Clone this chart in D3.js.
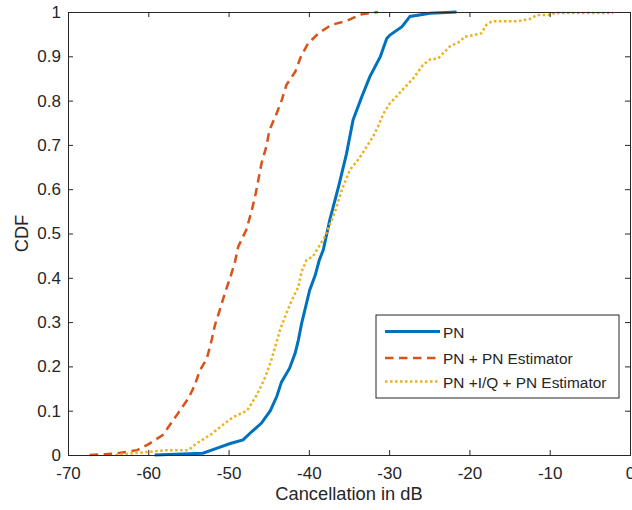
<!DOCTYPE html>
<html><head><meta charset="utf-8">
<script src="https://cdn.jsdelivr.net/npm/d3@7"></script>
<style>body{margin:0;background:#fff;} text{font-family:"Liberation Sans",Arial,sans-serif;fill:#262626;}</style>
</head><body>
<svg id="c" width="632" height="510"></svg>
<script>
const xTicks = [-70,-60,-50,-40,-30,-20,-10,0];
const yTicks = [0,0.1,0.2,0.3,0.4,0.5,0.6,0.7,0.8,0.9,1];
const seriesNames = ["PN","PN + PN Estimator","PN +I/Q + PN Estimator"];

const pnX = [-59.2,-53.2,-51.5,-49.8,-48.2,-47.1,-45.9,-44.8,-44.0,-43.4,-42.4,-41.7,-41.3,-40.9,-40.5,-39.9,-39.2,-38.7,-38.2,-37.4,-36.3,-35.3,-34.5,-33.4,-32.4,-31.1,-30.3,-29.9,-28.4,-27.4,-24.9,-21.6];
const pnY = [0,0.004,0.015,0.026,0.034,0.053,0.072,0.10,0.132,0.165,0.196,0.23,0.26,0.297,0.327,0.372,0.406,0.44,0.463,0.53,0.606,0.681,0.756,0.809,0.854,0.899,0.94,0.948,0.967,0.99,0.997,1.0];

const estX = [-67.3,-64.1,-61.4,-60.0,-58.2,-56.3,-55.0,-54.2,-53.6,-52.7,-52.1,-51.7,-51.1,-50.4,-49.8,-49.2,-48.8,-47.8,-47.2,-46.7,-46.3,-45.9,-45.3,-44.9,-44.1,-43.4,-42.8,-41.7,-41.0,-40.1,-38.8,-37.2,-35.3,-33.4,-31.4];
const estY = [0,0.003,0.011,0.024,0.045,0.094,0.128,0.158,0.19,0.218,0.26,0.293,0.327,0.369,0.40,0.436,0.47,0.508,0.546,0.583,0.62,0.658,0.696,0.734,0.767,0.80,0.835,0.865,0.899,0.929,0.952,0.971,0.98,0.995,1.0];

const iqX = [-64.1,-57.7,-55.0,-54.0,-52.3,-50.7,-49.4,-47.7,-46.5,-45.5,-44.8,-44.2,-43.6,-42.8,-42.1,-41.3,-40.9,-40.3,-39.5,-38.0,-36.8,-35.9,-34.9,-33.6,-32.8,-32.0,-31.4,-30.7,-29.9,-29.1,-28.0,-27.0,-25.8,-24.9,-23.9,-23.1,-22.4,-21.2,-20.6,-19.5,-18.5,-17.9,-17.2,-14.1,-12.5,-11.6,-9.8,-9.4,-2.1];
const iqY = [0,0.011,0.011,0.026,0.045,0.068,0.086,0.10,0.135,0.173,0.207,0.244,0.282,0.32,0.35,0.38,0.414,0.44,0.448,0.493,0.546,0.598,0.643,0.673,0.696,0.719,0.741,0.771,0.794,0.809,0.831,0.85,0.88,0.893,0.895,0.91,0.923,0.933,0.944,0.948,0.952,0.971,0.979,0.979,0.984,0.993,0.993,0.998,0.998];

const svg = d3.select("#c");
const L=68, R=630, T=12, B=455;
const x = d3.scaleLinear().domain([-70,0]).range([L,R]);
const y = d3.scaleLinear().domain([0,1]).range([B,T]);
const axisColor = "#262626";

const line = d3.line().x(d=>x(d[0])).y(d=>y(d[1]));
const styles = [
  {color:"#0072BD", w:3, dash:null},
  {color:"#D95319", w:2.5, dash:"8.5,5.5"},
  {color:"#EDB120", w:2.5, dash:"2.5,2.5"}
];
const data = [d3.zip(pnX,pnY), d3.zip(estX,estY), d3.zip(iqX,iqY)];
svg.append("clipPath").attr("id","clp").append("rect").attr("x",L).attr("y",T-2).attr("width",R-L).attr("height",B-T+4);
data.forEach((d,i)=>{
  svg.append("path").datum(d).attr("d",line).attr("fill","none")
    .attr("stroke",styles[i].color).attr("stroke-width",styles[i].w)
    .attr("stroke-dasharray",styles[i].dash).attr("clip-path","url(#clp)");
});

const gx = svg.append("g").attr("transform",`translate(0,${B})`)
  .call(d3.axisBottom(x).tickValues(xTicks).tickSize(-5).tickPadding(12).tickFormat(d=>String(d)));
const gxt = svg.append("g").attr("transform",`translate(0,${T})`)
  .call(d3.axisTop(x).tickValues(xTicks).tickSize(-5).tickFormat(""));
const gy = svg.append("g").attr("transform",`translate(${L},0)`)
  .call(d3.axisLeft(y).tickValues(yTicks).tickSize(-5).tickPadding(7).tickFormat(d=>d===0?"0":d===1?"1":d3.format(".1f")(d)));
const gyr = svg.append("g").attr("transform",`translate(${R},0)`)
  .call(d3.axisRight(y).tickValues(yTicks).tickSize(-5).tickFormat(""));
[gx,gxt,gy,gyr].forEach(g=>{
  g.select(".domain").attr("stroke",axisColor).attr("stroke-width",1);
  g.selectAll(".tick line").attr("stroke",axisColor);
  g.selectAll("text").style("font-size","17px").attr("fill",axisColor).style("font-family","'Liberation Sans',Arial,sans-serif");
});

svg.append("text").attr("x",(L+R)/2).attr("y",500).attr("text-anchor","middle")
  .style("font-size","18.3px").text("Cancellation in dB");
svg.append("text").attr("transform",`translate(28,${(T+B)/2}) rotate(-90)`).attr("text-anchor","middle")
  .style("font-size","18.3px").text("CDF");

const lg = svg.append("g");
lg.append("rect").attr("x",376).attr("y",315).attr("width",243).attr("height",83)
  .attr("fill","#fff").attr("stroke",axisColor).attr("stroke-width",1);
const rows = [331.5,358,381.5];
seriesNames.forEach((n,i)=>{
  lg.append("line").attr("x1",385).attr("x2",440).attr("y1",rows[i]).attr("y2",rows[i])
    .attr("stroke",styles[i].color).attr("stroke-width",styles[i].w).attr("stroke-dasharray",styles[i].dash);
  lg.append("text").attr("x",443).attr("y",rows[i]+6).style("font-size","15.4px").text(n);
});
</script>
</body></html>
